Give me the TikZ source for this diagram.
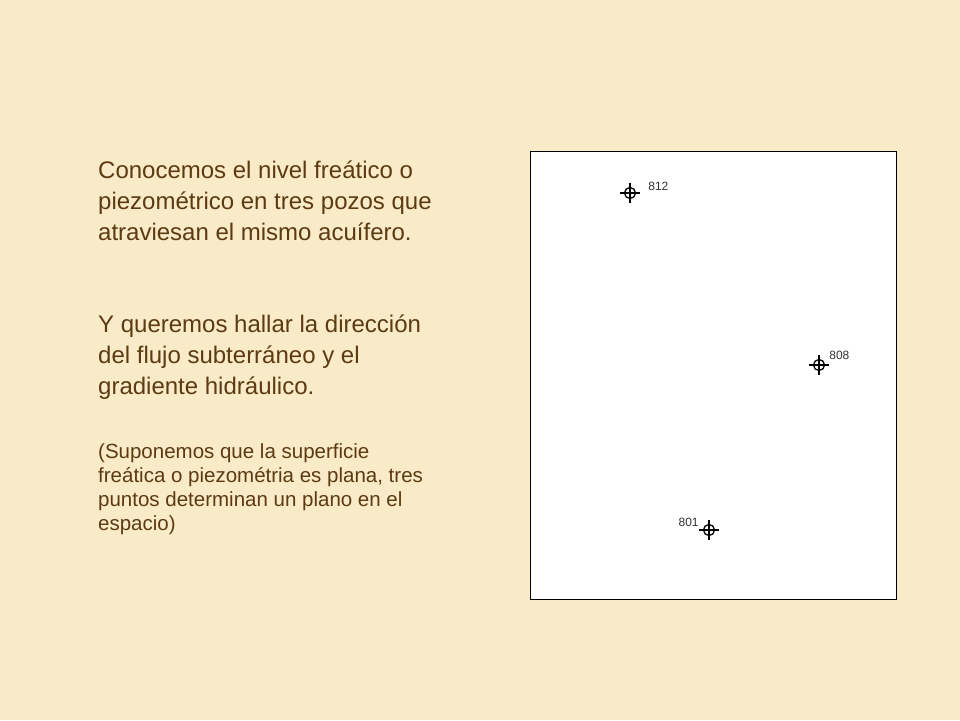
\documentclass[tikz,border=0pt]{standalone}
\usepackage{fontspec}
\setmainfont{Liberation Sans}
\usepackage{tikz}
\usetikzlibrary{positioning}

\definecolor{paper}{RGB}{250,235,200}
\definecolor{ink}{RGB}{92,58,18}

\begin{document}
\begin{tikzpicture}[x=1pt,y=-1pt]

  \tikzstyle{words}=[anchor=north west,inner sep=0pt,align=left,text=ink]
  \tikzstyle{well}=[circle,draw=black,line width=1.3pt,minimum size=11pt,inner sep=0pt]
  \tikzstyle{lbl}=[font=\fontsize{12}{14}\selectfont,inner sep=1pt,text=black!80]

  \fill[paper] (0,0) rectangle (960,720);
  \useasboundingbox (0,0) rectangle (960,720);

  \node [words,font=\fontsize{24}{31}\selectfont] (intro) at (98,161)
    {Conocemos el nivel freático o\\piezométrico en tres pozos que\\atraviesan el mismo acuífero.};
  \node [words,font=\fontsize{24}{31}\selectfont] (goal) at (98,315)
    {Y queremos hallar la dirección\\del flujo subterráneo y el\\gradiente hidráulico.};
  \node [words,font=\fontsize{20.5}{24}\selectfont] (note) at (98,443)
    {(Suponemos que la superficie\\freática o piezométria es plana, tres\\puntos determinan un plano en el\\espacio)};

  % plano con los pozos
  \draw [fill=white,draw=black,line width=0.8pt] (530,151) rectangle (896,599);

  \node [well,label={[lbl,anchor=west,xshift=11pt,yshift=7pt]right:812}] (w812) at (630,193) {};
  \node [well,label={[lbl,anchor=west,xshift=3pt,yshift=10pt]right:808}] (w808) at (819,365) {};
  \node [well,label={[lbl,anchor=east,xshift=-3pt,yshift=8pt]left:801}] (w801) at (709,530) {};

  \foreach \w in {w812,w808,w801}
    \draw [line width=1.3pt] ([yshift=3.5pt]\w.north) -- ([yshift=-3.5pt]\w.south)
                             ([xshift=-3.5pt]\w.west) -- ([xshift=3.5pt]\w.east);
\end{tikzpicture}
\end{document}
